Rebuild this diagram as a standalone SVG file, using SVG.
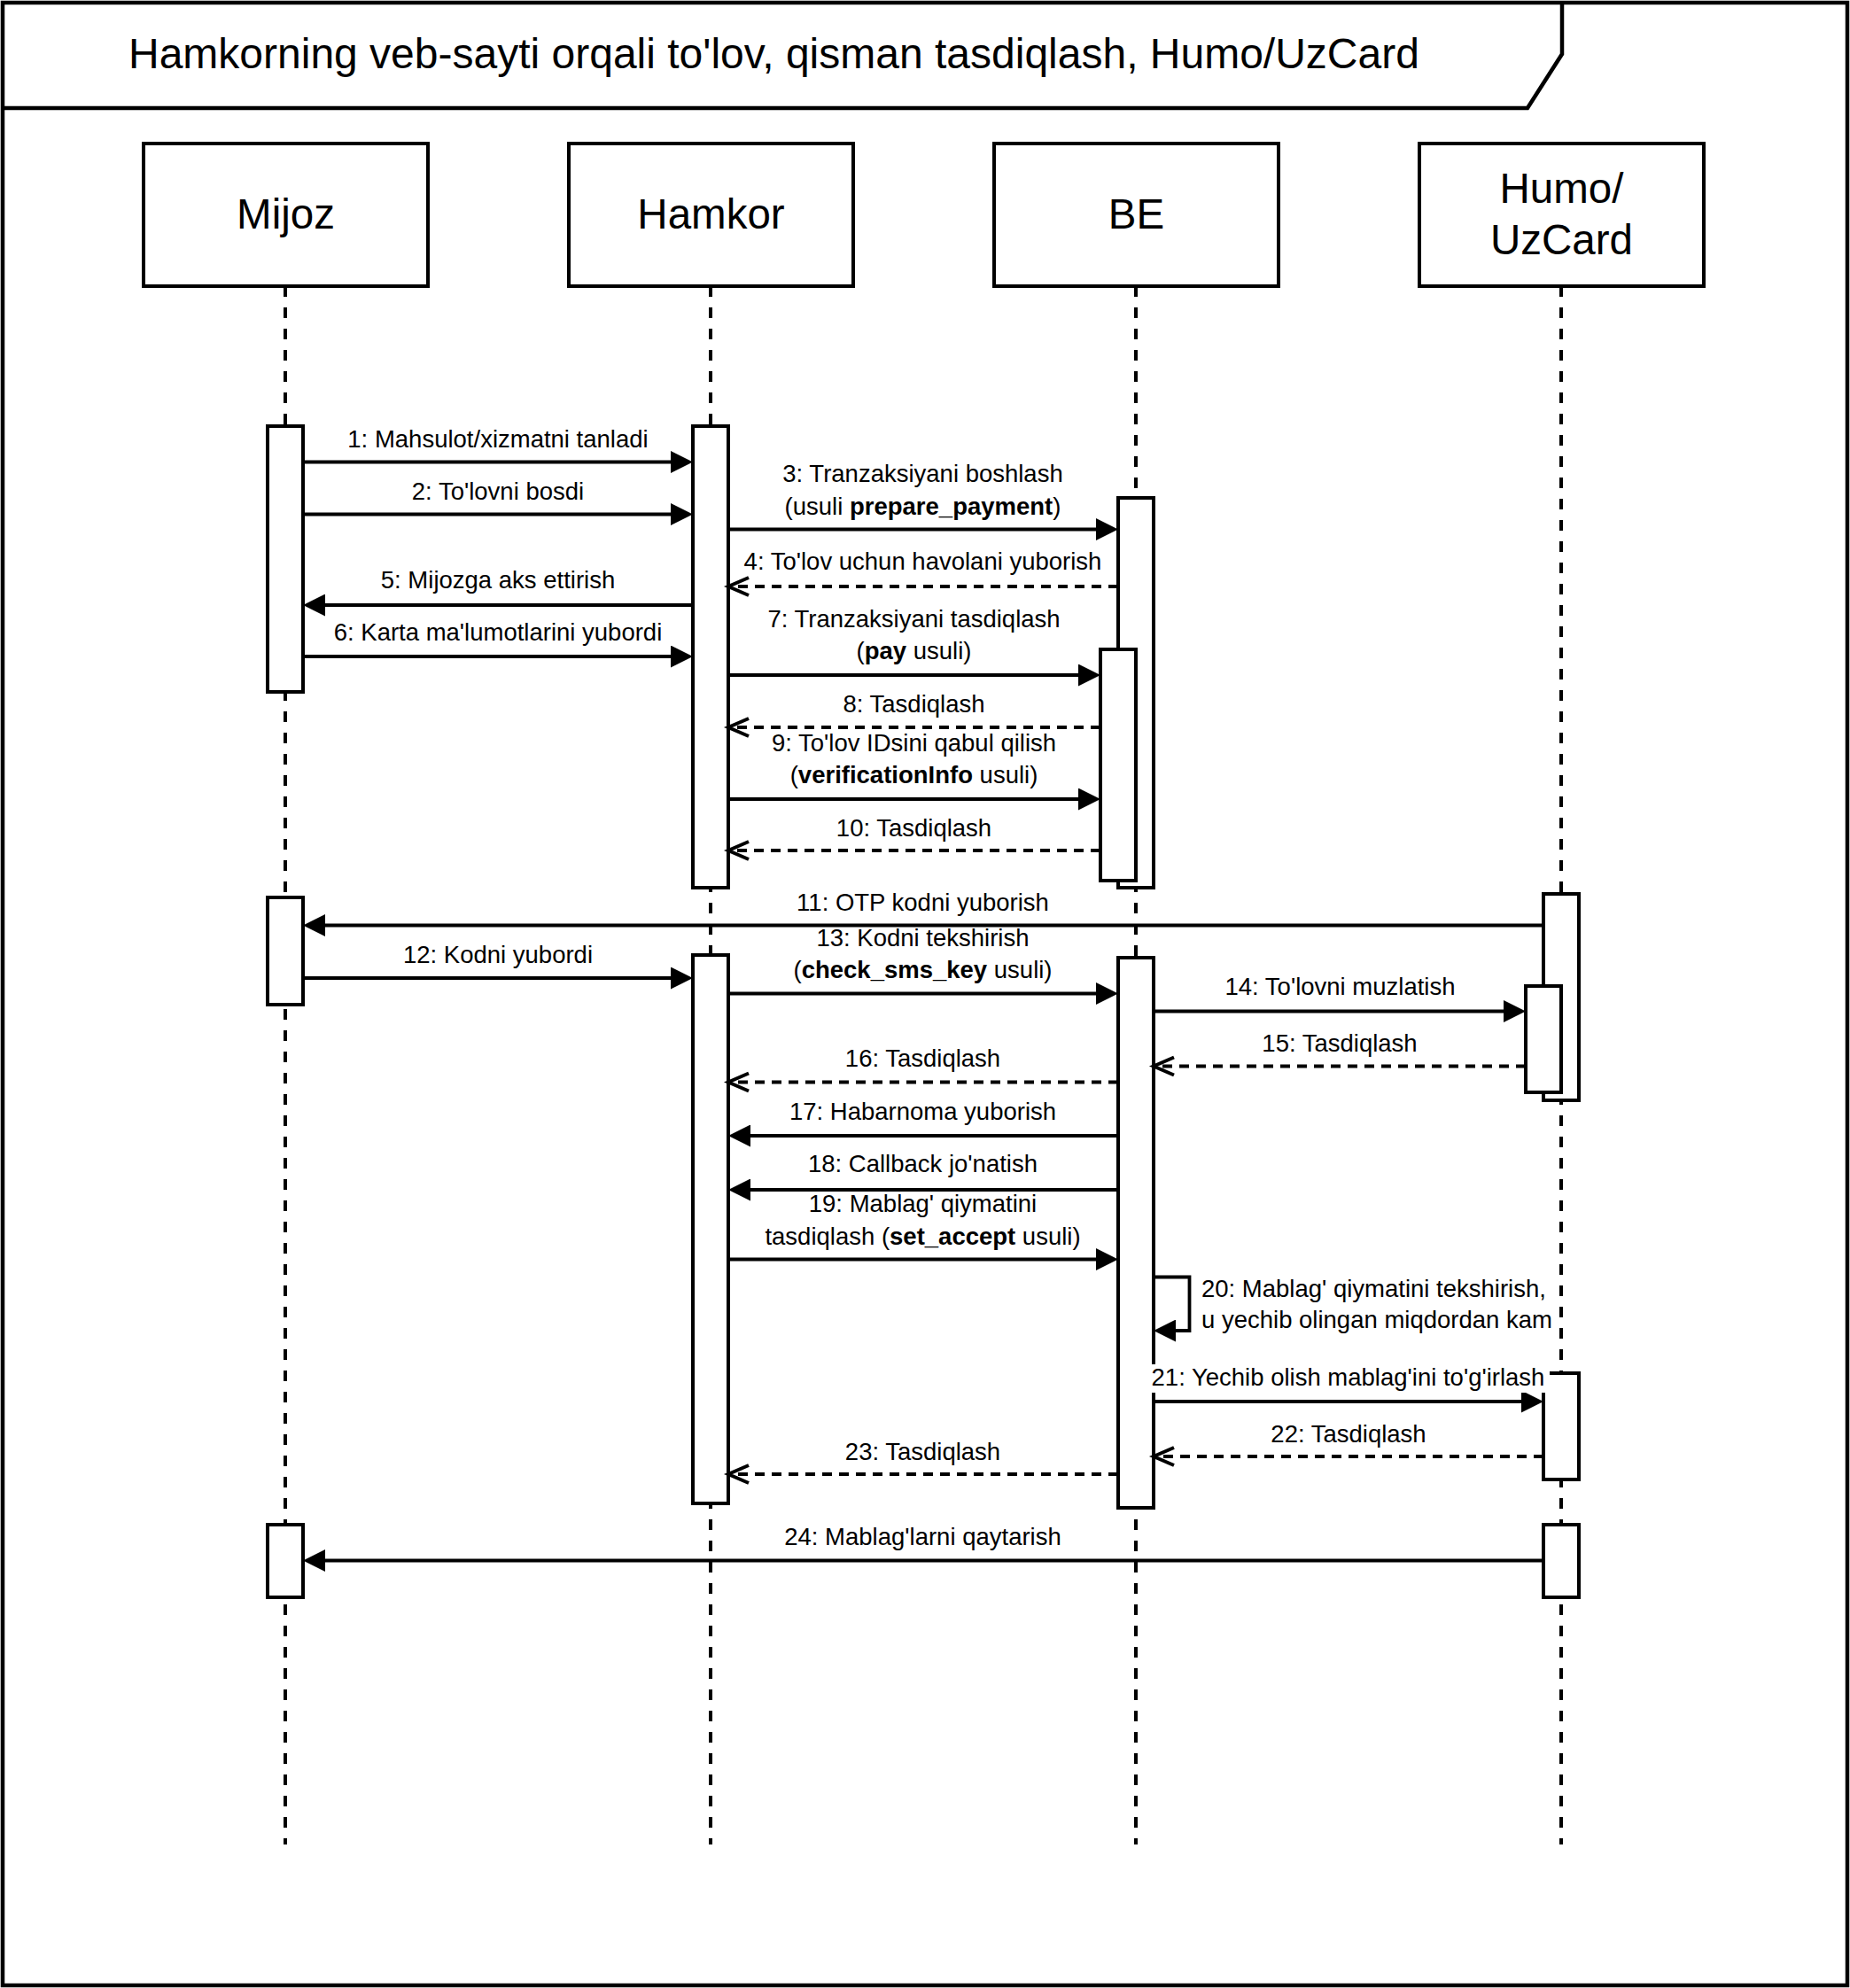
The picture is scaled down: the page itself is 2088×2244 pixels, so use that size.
<svg xmlns="http://www.w3.org/2000/svg" width="2088" height="2244" viewBox="0 0 2088 2244">
<style>
.frame{fill:none;stroke:#000;stroke-width:4.5}
.box{fill:#fff;stroke:#000;stroke-width:4}
.life{stroke:#000;stroke-width:4;stroke-dasharray:12 12;fill:none}
.act{fill:#fff;stroke:#000;stroke-width:4}
.msg{stroke:#000;stroke-width:3.8;fill:none}
.sync{marker-end:url(#block)}
.ret{stroke-dasharray:11 8;marker-end:url(#open)}
text{font-family:"Liberation Sans",Arial,Helvetica,sans-serif;fill:#000}
.t{font-size:48px}
.p{font-size:47.5px;text-anchor:middle}
.l{font-size:27.5px;text-anchor:middle}
.s{font-size:27.5px;text-anchor:start}
.b{font-weight:bold}
</style>
<defs>
<marker id="block" viewBox="0 0 25 25" refX="1" refY="12.5" markerWidth="25" markerHeight="25" markerUnits="userSpaceOnUse" orient="auto"><path d="M0,0 L25,12.5 L0,25 Z" fill="#000"/></marker>
<marker id="open" viewBox="-3 -3 29 27" refX="23" refY="10" markerWidth="29" markerHeight="27" markerUnits="userSpaceOnUse" orient="auto" overflow="visible"><path d="M0,0 L23,10 L0,20" fill="none" stroke="#000" stroke-width="4" stroke-dasharray="none"/></marker>
</defs>
<rect x="0" y="0" width="2088" height="2244" fill="#fff"/>
<g id="frame">
<rect class="frame" x="3" y="3" width="2082" height="2238"/>
<path class="frame" d="M3,122 H1724 L1763,61 V3"/>
<text class="t" x="145" y="77">Hamkorning veb-sayti orqali to'lov, qisman tasdiqlash, Humo/UzCard</text>
</g>
<g id="mijoz">
<line class="life" x1="322" y1="323" x2="322" y2="2082"/>
<rect class="box" x="162" y="162" width="321" height="161"/>
<text class="p" x="322.5" y="258">Mijoz</text>
<rect class="act" x="302" y="481" width="40" height="300"/>
<rect class="act" x="302" y="1013" width="40" height="121"/>
<rect class="act" x="302" y="1721" width="40" height="82"/>
</g>
<g id="hamkor">
<line class="life" x1="802" y1="323" x2="802" y2="2082"/>
<rect class="box" x="642" y="162" width="321" height="161"/>
<text class="p" x="802.5" y="258">Hamkor</text>
<rect class="act" x="782" y="481" width="40" height="521"/>
<rect class="act" x="782" y="1078" width="40" height="619"/>
</g>
<g id="be">
<line class="life" x1="1282" y1="323" x2="1282" y2="2082"/>
<rect class="box" x="1122" y="162" width="321" height="161"/>
<text class="p" x="1282.5" y="258">BE</text>
<rect class="act" x="1262" y="562" width="40" height="440"/>
<rect class="act" x="1242" y="733" width="40" height="261"/>
<rect class="act" x="1262" y="1081" width="40" height="621"/>
</g>
<g id="humo">
<line class="life" x1="1762" y1="323" x2="1762" y2="2082"/>
<rect class="box" x="1602" y="162" width="321" height="161"/>
<text class="p" x="1762.5" y="229">Humo/</text>
<text class="p" x="1762.5" y="287">UzCard</text>
<rect class="act" x="1742" y="1009" width="40" height="233"/>
<rect class="act" x="1722" y="1113" width="40" height="120"/>
<rect class="act" x="1742" y="1550" width="40" height="120"/>
<rect class="act" x="1742" y="1721" width="40" height="82"/>
</g>
<g id="connectors">
<path class="msg sync" d="M342,521.5 H758"/>
<text class="l" x="562" y="505">1: Mahsulot/xizmatni tanladi</text>
<path class="msg sync" d="M342,580.5 H758"/>
<text class="l" x="562" y="564">2: To'lovni bosdi</text>
<path class="msg sync" d="M822,597.5 H1238"/>
<text class="l" x="1041.5" y="544">3: Tranzaksiyani boshlash</text>
<text class="l" x="1041.5" y="580.5">(usuli <tspan class="b">prepare_payment</tspan>)</text>
<path class="msg ret" d="M1262,662 H822"/>
<text class="l" x="1041.5" y="643">4: To'lov uchun havolani yuborish</text>
<path class="msg sync" d="M782,683 H366"/>
<text class="l" x="562" y="664">5: Mijozga aks ettirish</text>
<path class="msg sync" d="M342,741 H758"/>
<text class="l" x="562" y="723">6: Karta ma'lumotlarini yubordi</text>
<path class="msg sync" d="M822,762 H1218"/>
<text class="l" x="1031.5" y="708">7: Tranzaksiyani tasdiqlash</text>
<text class="l" x="1031.5" y="743.5">(<tspan class="b">pay</tspan> usuli)</text>
<path class="msg ret" d="M1242,821 H822"/>
<text class="l" x="1031.5" y="804">8: Tasdiqlash</text>
<path class="msg sync" d="M822,902 H1218"/>
<text class="l" x="1031.5" y="848">9: To'lov IDsini qabul qilish</text>
<text class="l" x="1031.5" y="884">(<tspan class="b">verificationInfo</tspan> usuli)</text>
<path class="msg ret" d="M1242,960 H822"/>
<text class="l" x="1031.5" y="943.5">10: Tasdiqlash</text>
<path class="msg sync" d="M1742,1044.5 H366"/>
<text class="l" x="1041.5" y="1028">11: OTP kodni yuborish</text>
<path class="msg sync" d="M342,1104 H758"/>
<text class="l" x="562" y="1087">12: Kodni yubordi</text>
<path class="msg sync" d="M822,1121.5 H1238"/>
<text class="l" x="1041.5" y="1068">13: Kodni tekshirish</text>
<text class="l" x="1041.5" y="1104">(<tspan class="b">check_sms_key</tspan> usuli)</text>
<path class="msg sync" d="M1302,1141.5 H1698"/>
<text class="l" x="1512.5" y="1123">14: To'lovni muzlatish</text>
<path class="msg ret" d="M1722,1203.5 H1302"/>
<text class="l" x="1512" y="1187">15: Tasdiqlash</text>
<path class="msg ret" d="M1262,1221.5 H822"/>
<text class="l" x="1041.5" y="1203.5">16: Tasdiqlash</text>
<path class="msg sync" d="M1262,1282 H846"/>
<text class="l" x="1041.5" y="1264">17: Habarnoma yuborish</text>
<path class="msg sync" d="M1262,1343 H846"/>
<text class="l" x="1041.5" y="1323">18: Callback jo'natish</text>
<path class="msg sync" d="M822,1421.5 H1238"/>
<text class="l" x="1041.5" y="1368">19: Mablag' qiymatini</text>
<text class="l" x="1041.5" y="1404.5">tasdiqlash (<tspan class="b">set_accept</tspan> usuli)</text>
<path class="msg sync" d="M1302,1441.5 H1342.5 V1502 H1326"/>
<text class="s" x="1356" y="1464">20: Mablag' qiymatini tekshirish,</text>
<text class="s" x="1356" y="1499">u yechib olingan miqdordan kam</text>
<path class="msg sync" d="M1302,1582 H1718"/>
<rect x="1295" y="1540" width="454" height="32" fill="#fff"/>
<text class="l" x="1521.5" y="1564">21: Yechib olish mablag'ini to'g'irlash</text>
<path class="msg ret" d="M1742,1644 H1302"/>
<text class="l" x="1522" y="1628">22: Tasdiqlash</text>
<path class="msg ret" d="M1262,1664 H822"/>
<text class="l" x="1041.5" y="1648">23: Tasdiqlash</text>
<path class="msg sync" d="M1742,1761.5 H366"/>
<text class="l" x="1041.5" y="1744">24: Mablag'larni qaytarish</text>
</g>
</svg>
